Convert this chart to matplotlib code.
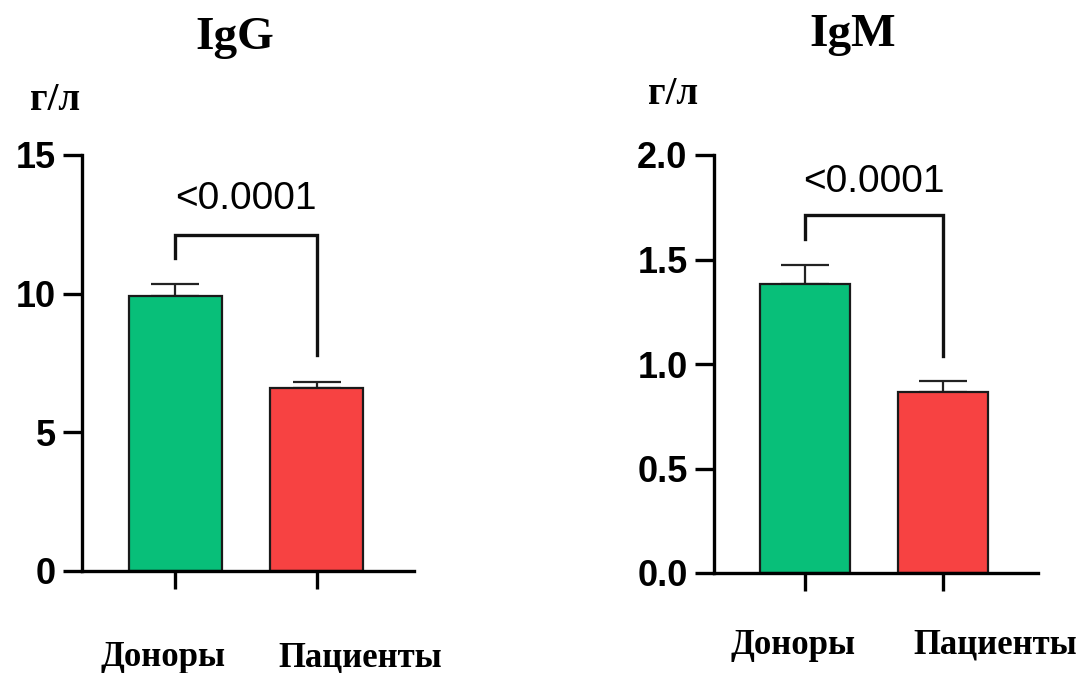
import matplotlib
matplotlib.use("Agg")
import matplotlib.pyplot as plt

# data
groups = ["Доноры", "Пациенты"]
igg_mean = [9.9, 6.6]
igg_err = [0.45, 0.22]
igm_mean = [1.385, 0.868]
igm_err = [0.09, 0.052]
p_text = "<0.0001"
unit = "г/л"

GREEN = "#08bf79"
RED = "#f74242"
SERIF = ["Liberation Serif", "DejaVu Serif"]
SANS = ["Liberation Sans", "DejaVu Sans"]

fig = plt.figure(figsize=(10.86, 6.73), dpi=100)


def panel(rect, means, errs, ylim, yticks, ticklabels, bracket, title, title_xy, unit_xy,
          lab_x, lab_y, width):
    ax = fig.add_axes(rect)
    x = [0, 1]
    ax.bar(x, means, width=width, color=[GREEN, RED], edgecolor="#1a1a1a", linewidth=1.6,
           zorder=2)
    ax.errorbar(x, means, yerr=[[0, 0], errs], fmt="none", ecolor="#222222",
                elinewidth=1.6, capsize=17, capthick=1.6, zorder=1)
    ax.set_xlim(-0.66, 1.69)
    ax.set_ylim(*ylim)
    ax.set_yticks(yticks)
    ax.set_yticklabels(ticklabels, fontsize=26, fontweight="bold", family=SANS)
    ax.set_xticks(x)
    ax.set_xticklabels([])
    for s in ("top", "right"):
        ax.spines[s].set_visible(False)
    for s in ("left", "bottom"):
        ax.spines[s].set_linewidth(2.4)
    ax.tick_params(axis="y", length=14, width=2.4, pad=5)
    ax.tick_params(axis="x", length=13, width=2.4)

    # significance bracket
    y_top, y_left, y_right, y_txt = bracket
    ax.plot([0, 0, 1, 1], [y_left, y_top, y_top, y_right], color="#111111", lw=2.4,
            solid_joinstyle="miter", clip_on=False)
    ax.text(0.5, y_txt, p_text, ha="center", va="center", fontsize=28, family=SANS)

    fig.text(title_xy[0], title_xy[1], title, ha="center", va="center", fontsize=34,
             fontweight="bold", family=SERIF)
    fig.text(unit_xy[0], unit_xy[1], unit, ha="center", va="center", fontsize=28,
             fontweight="bold", family=SERIF)
    for name, lx in zip(groups, lab_x):
        fig.text(lx, lab_y, name, ha="center", va="center", fontsize=25,
                 fontweight="bold", family=SERIF)
    return ax


W, H = 1086, 673
panel([82 / W, 1 - 571 / H, 332 / W, 416 / H], igg_mean, igg_err, (0, 15),
      [0, 5, 10, 15], ["0", "5", "10", "15"], (12.13, 11.3, 7.8, 13.4),
      "IgG", (235 / W, 1 - 38 / H), (55 / W, 1 - 100 / H),
      [163 / W, 360 / W], 1 - 658 / H, 0.66)
panel([714 / W, 1 - 573 / H, 324 / W, 418 / H], igm_mean, igm_err, (0, 2.0),
      [0, 0.5, 1.0, 1.5, 2.0], ["0.0", "0.5", "1.0", "1.5", "2.0"],
      (1.713, 1.60, 1.04, 1.87),
      "IgM", (853 / W, 1 - 35 / H), (673 / W, 1 - 94 / H),
      [793 / W, 995 / W], 1 - 645 / H, 0.65)

fig.savefig("out.png", dpi=100)
